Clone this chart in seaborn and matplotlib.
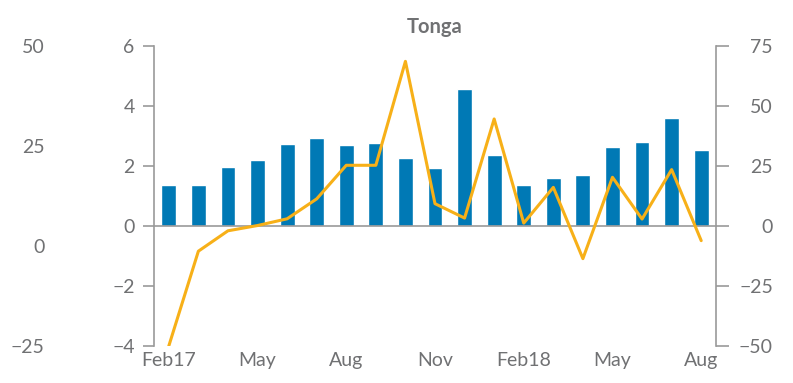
import matplotlib
matplotlib.use("Agg")
import matplotlib.pyplot as plt
import numpy as np
import pandas as pd
import seaborn as sns

# Monthly data, Feb 2017 - Aug 2018
months = ["Feb17", "Mar17", "Apr17", "May17", "Jun17", "Jul17", "Aug17", "Sep17",
          "Oct17", "Nov17", "Dec17", "Jan18", "Feb18", "Mar18", "Apr18", "May18",
          "Jun18", "Jul18", "Aug18"]
bar_values = [1.37, 1.37, 1.97, 2.2, 2.73, 2.93, 2.7, 2.77, 2.27, 1.94, 4.56,
              2.37, 1.37, 1.6, 1.7, 2.63, 2.8, 3.6, 2.53]
line_values = [-50.0, -10.5, -2.0, 0.2, 3.0, 11.3, 25.3, 25.3, 68.6, 9.3, 3.3,
               44.6, 1.2, 16.1, -13.6, 20.3, 2.9, 23.5, -6.1]
tick_labels = ["Feb17", "May", "Aug", "Nov", "Feb18", "May", "Aug"]
label_every = 3

left_ticks = [-4, -2, 0, 2, 4, 6]
right_ticks = [-50, -25, 0, 25, 50, 75]
outer_ticks = [-25, 0, 25, 50]

BLUE = "#0079B5"
GOLD = "#F7B018"
TEXT = "#707173"
AXIS = "#9A9A9A"

sns.set_theme(style="white")
plt.rcParams["font.family"] = ["Lato", "DejaVu Sans"]
plt.rcParams["axes.unicode_minus"] = True

df = pd.DataFrame({"month": months, "bars": bar_values,
                   "line": line_values, "pos": np.arange(len(months))})

fig = plt.figure(figsize=(7.93, 3.83), dpi=100)
ax = fig.add_axes([0.1942, 0.0966, 0.7087, 0.7833])

sns.barplot(data=df, x="month", y="bars", color=BLUE, width=0.5,
            saturation=1, ax=ax)
ax.set_xlim(-0.5, len(months) - 0.5)
ax.set_ylim(-4, 6)
ax.set_yticks(left_ticks)
ax.set_xlabel("")
ax.set_ylabel("")

# x axis sits on the zero line; ticks mark quarter boundaries
for s in ["top", "right"]:
    ax.spines[s].set_visible(False)
ax.spines["bottom"].set_position(("data", 0))
ax.spines["bottom"].set_color(AXIS)
ax.spines["left"].set_color(AXIS)
ax.spines["bottom"].set_linewidth(1.2)
ax.spines["left"].set_linewidth(1.2)
ax.set_xticks(np.arange(-0.5, len(months), label_every))
ax.set_xticklabels([])
ax.set_xticks(np.arange(0, len(months), label_every), minor=True)
ax.set_xticklabels(tick_labels, minor=True)
ax.tick_params(axis="x", which="major", direction="out", length=7,
               width=1.2, color=AXIS, bottom=True)
ax.tick_params(axis="x", which="minor", length=0, pad=91,
               labelsize=14, labelcolor=TEXT, bottom=True)
ax.tick_params(axis="y", direction="out", length=8, width=1.2, color=AXIS,
               left=True, labelsize=14, labelcolor=TEXT, pad=6)

# right axis for the line
ax2 = ax.twinx()
sns.lineplot(data=df, x="pos", y="line", color=GOLD, linewidth=2.2, ax=ax2)
ax2.set_ylim(-50, 75)
ax2.set_yticks(right_ticks)
ax2.set_xlim(-0.5, len(months) - 0.5)
ax2.set_xlabel("")
ax2.set_ylabel("")
for s in ["top", "left", "bottom"]:
    ax2.spines[s].set_visible(False)
ax2.spines["right"].set_color(AXIS)
ax2.spines["right"].set_linewidth(1.2)
ax2.tick_params(axis="y", direction="out", length=9.5, width=1.2, color=AXIS,
                right=True, labelsize=14, labelcolor=TEXT, pad=31.5)
for t in ax2.get_yticklabels():
    t.set_horizontalalignment("right")

# outer scale on the far left
ax3 = ax.twinx()
ax3.set_ylim(-25, 50)
ax3.set_yticks(outer_ticks)
ax3.yaxis.set_ticks_position("left")
ax3.yaxis.set_label_position("left")
for s in ["top", "right", "bottom", "left"]:
    ax3.spines[s].set_visible(False)
ax3.spines["left"].set_position(("outward", 72))
ax3.tick_params(axis="y", length=0, left=True, right=False, labelleft=True,
                labelright=False, labelsize=14, labelcolor=TEXT, pad=7)
ax3.set_xticks([])

ax.set_title("Tonga", fontsize=14.5, fontweight="bold", color=TEXT, pad=9)

fig.savefig("out.png", dpi=100)
